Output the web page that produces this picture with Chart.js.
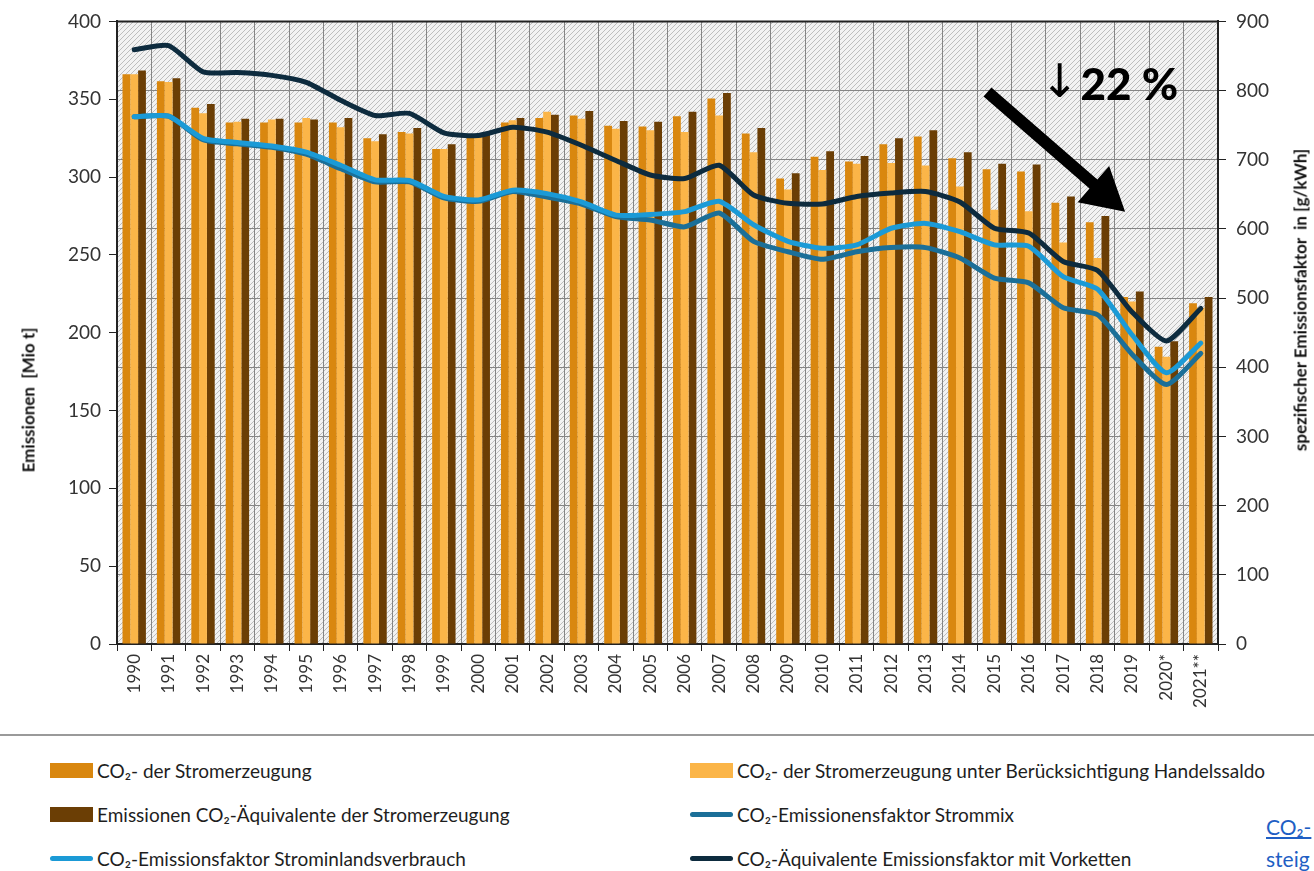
<!DOCTYPE html>
<html lang="de">
<head>
<meta charset="utf-8">
<title>CO2-Emissionen der Stromerzeugung</title>
<script src="https://cdn.jsdelivr.net/npm/chart.js@4.4.1/dist/chart.umd.min.js"></script>
<style>
  body { margin: 0; background: #fff; width: 1314px; height: 871px; overflow: hidden; position: relative; font-family: Lato, "Open Sans", sans-serif; color: #222; }
  #chart { position: absolute; left: 0; top: 0; }
  .ytitle { position: absolute; font-weight: 700; font-size: 17px; white-space: pre; color: #111; transform: translate(-50%, -50%) rotate(-90deg); }
  .sep { position: absolute; left: 0; top: 734px; width: 1314px; height: 0; border-top: 2px solid #9a9a9a; }
  .leg { position: absolute; display: flex; align-items: center; height: 24px; font-size: 19px; white-space: nowrap; color: #1e1e1e; }
  .sw { display: inline-block; width: 43px; margin-right: 4px; }
  .sw.bar { height: 15px; }
  .sw.line { height: 5px; border-radius: 3px; }
  .link { position: absolute; left: 1266px; font-size: 21px; color: #1f5fc4; white-space: nowrap; }
</style>
</head>
<body>
<canvas id="chart" width="1314" height="725"></canvas>
<div class="ytitle" style="left:28px; top:400px;">Emissionen  [Mio t]</div>
<div class="ytitle" style="left:1300px; top:300px;">spezifischer Emissionsfaktor  in [g/kWh]</div>

<div class="sep"></div>
<div class="leg" style="left:50px; top:758px;"><span class="sw bar" style="background:#d9870f"></span>CO₂- der Stromerzeugung</div>
<div class="leg" style="left:690px; top:758px;"><span class="sw bar" style="background:#fbb548"></span>CO₂- der Stromerzeugung unter Berücksichtigung Handelssaldo</div>
<div class="leg" style="left:50px; top:802px;"><span class="sw bar" style="background:#6b3e05"></span>Emissionen CO₂-Äquivalente der Stromerzeugung</div>
<div class="leg" style="left:690px; top:802px;"><span class="sw line" style="background:#1b6f98"></span>CO₂-Emissionensfaktor Strommix</div>
<div class="leg" style="left:50px; top:846px;"><span class="sw line" style="background:#1b9ad6"></span>CO₂-Emissionsfaktor Strominlandsverbrauch</div>
<div class="leg" style="left:690px; top:846px;"><span class="sw line" style="background:#0d2b3e"></span>CO₂-Äquivalente Emissionsfaktor mit Vorketten</div>
<div class="link" style="top:814px; text-decoration:underline;">CO₂-</div>
<div class="link" style="top:846px;">steig</div>

<script>
// Jahre (x-Achse)
const years = [
  "1990", "1991", "1992", "1993", "1994", "1995", "1996", "1997", "1998", "1999",
  "2000", "2001", "2002", "2003", "2004", "2005", "2006", "2007", "2008", "2009",
  "2010", "2011", "2012", "2013", "2014", "2015", "2016", "2017", "2018", "2019",
  "2020*", "2021**",
];

// Balken, Mio t
const co2Erzeugung = [
  366, 361.5, 344.5, 335, 335, 335, 335, 325, 329, 318,
  326.5, 335, 338, 339.5, 333, 332.5, 339, 350.5, 328, 299,
  313, 310, 321, 326, 312, 305, 303.5, 283.5, 271, 223,
  191, 219,
];
const co2Handelssaldo = [
  366, 361, 341, 335.5, 337, 338, 332, 323, 328, 318,
  326, 336.5, 342, 337.5, 331, 330, 329, 339.5, 316, 292,
  304.5, 308.5, 309, 307.5, 294, 279, 278, 258, 248, 220,
  184.5, 216,
];
const co2Aequivalente = [
  368.5, 363.5, 347, 337.5, 337.5, 337, 338, 327.5, 331.5, 321,
  327, 338, 340, 342.5, 336, 335.5, 342, 354, 331.5, 302.5,
  316.5, 313.5, 325, 330, 316, 308.5, 308, 287.5, 275, 226.5,
  194.5, 223,
];

// Linien, g/kWh
const faktorVorketten = [
  859, 865, 827, 826, 822, 812, 786, 764, 767, 739,
  735, 747, 740, 721, 699, 678, 673, 692, 649, 637,
  636, 647, 652, 654, 639, 601, 594, 553, 540, 480,
  438, 485,
];
const faktorInland = [
  762, 763, 731, 725, 720, 711, 692, 671, 670, 647,
  642, 656, 651, 639, 620, 621, 625, 640, 606, 582,
  572, 577, 601, 608, 596, 577, 575, 531, 513, 447,
  392, 435,
];
const faktorStrommix = [
  762, 763, 729, 723, 718, 708, 687, 668, 668, 645,
  640, 654, 646, 636, 618, 613, 603, 623, 582, 567,
  556, 567, 573, 573, 558, 529, 522, 486, 476, 419,
  375, 420,
];

Chart.defaults.font.family = "Lato, 'Open Sans', sans-serif";

// schraffierter Hintergrund der Zeichenfläche
function makeHatch() {
  const c = document.createElement("canvas");
  c.width = 5;
  c.height = 5;
  const g = c.getContext("2d");
  g.fillStyle = "#f2f2f2";
  g.fillRect(0, 0, 5, 5);
  g.strokeStyle = "#bdbdbd";
  g.lineWidth = 1;
  g.beginPath();
  g.moveTo(0, 5);
  g.lineTo(5, 0);
  g.moveTo(-1, 1);
  g.lineTo(1, -1);
  g.moveTo(4, 6);
  g.lineTo(6, 4);
  g.stroke();
  return c;
}

const hatchPlugin = {
  id: "hatch",
  beforeDraw(chart) {
    const { ctx, chartArea: a } = chart;
    ctx.save();
    ctx.fillStyle = "#fff";
    ctx.fillRect(0, 0, chart.width, chart.height);
    ctx.fillStyle = ctx.createPattern(makeHatch(), "repeat");
    ctx.fillRect(a.left, a.top, a.right - a.left, a.bottom - a.top);
    ctx.restore();
  },
  afterDraw(chart) {
    const { ctx, chartArea: a } = chart;
    ctx.save();
    ctx.strokeStyle = "#222";
    ctx.lineWidth = 2;
    ctx.beginPath();
    ctx.moveTo(a.left, a.top);
    ctx.lineTo(a.right, a.top);
    ctx.stroke();
    ctx.restore();
  },
};

// Pfeil und "22 %" Hinweis (Position in Achsenwerten)
const arrowFrom = [24.8, 798];
const arrowTo = [28.8, 625];

const notePlugin = {
  id: "note",
  afterDatasetsDraw(chart) {
    const { ctx } = chart;
    const x = chart.scales.x;
    const y = chart.scales.y2;
    const x0 = x.getPixelForValue(arrowFrom[0]);
    const y0 = y.getPixelForValue(arrowFrom[1]);
    const x1 = x.getPixelForValue(arrowTo[0]);
    const y1 = y.getPixelForValue(arrowTo[1]);
    const ang = Math.atan2(y1 - y0, x1 - x0);
    const len = Math.hypot(x1 - x0, y1 - y0);
    const head = 42;
    const halfHead = 24;
    const halfShaft = 6;

    ctx.save();
    ctx.translate(x0, y0);
    ctx.rotate(ang);
    ctx.fillStyle = "#000";
    ctx.beginPath();
    ctx.moveTo(0, -halfShaft);
    ctx.lineTo(len - head, -halfShaft);
    ctx.lineTo(len - head, -halfHead);
    ctx.lineTo(len, 0);
    ctx.lineTo(len - head, halfHead);
    ctx.lineTo(len - head, halfShaft);
    ctx.lineTo(0, halfShaft);
    ctx.closePath();
    ctx.fill();
    ctx.restore();

    ctx.save();
    ctx.fillStyle = "#000";
    ctx.textBaseline = "alphabetic";
    ctx.font = "46px 'DejaVu Sans'";
    ctx.textAlign = "center";
    ctx.fillText("↓", x.getPixelForValue(26.9), y.getPixelForValue(790));
    ctx.font = "900 44px Lato";
    ctx.textAlign = "left";
    ctx.fillText("22 %", x.getPixelForValue(27.5), y.getPixelForValue(786));
    ctx.restore();
  },
};

const barOpts = { type: "bar", yAxisID: "y", order: 3, categoryPercentage: 0.68, barPercentage: 1.0 };
const lineOpts = { type: "line", yAxisID: "y2", borderWidth: 5, pointRadius: 0, tension: 0.2, fill: false, borderCapStyle: "round", borderJoinStyle: "round" };

const gridGray = "#858585";
const tickFont = { size: 19 };

new Chart(document.getElementById("chart"), {
  data: {
    labels: years,
    datasets: [
      { ...lineOpts, label: "CO₂-Äquivalente Emissionsfaktor mit Vorketten", data: faktorVorketten, borderColor: "#0d2b3e", order: 0 },
      { ...lineOpts, label: "CO₂-Emissionsfaktor Strominlandsverbrauch", data: faktorInland, borderColor: "#1b9ad6", order: 1 },
      { ...lineOpts, label: "CO₂-Emissionensfaktor Strommix", data: faktorStrommix, borderColor: "#1b6f98", order: 2 },
      { ...barOpts, label: "CO₂- der Stromerzeugung", data: co2Erzeugung, backgroundColor: "#d9870f" },
      { ...barOpts, label: "CO₂- der Stromerzeugung unter Berücksichtigung Handelssaldo", data: co2Handelssaldo, backgroundColor: "#fbb548" },
      { ...barOpts, label: "Emissionen CO₂-Äquivalente der Stromerzeugung", data: co2Aequivalente, backgroundColor: "#6b3e05" },
    ],
  },
  options: {
    responsive: false,
    animation: false,
    layout: { padding: { top: 19, left: 0, right: 0, bottom: 0 } },
    plugins: { legend: { display: false }, tooltip: { enabled: false } },
    scales: {
      x: {
        grid: { color: gridGray, offset: true, tickColor: "#222", tickLength: 7 },
        border: { color: "#222", width: 2 },
        ticks: { minRotation: 90, maxRotation: 90, autoSkip: false, color: "#333", font: { size: 17 }, padding: 3 },
        afterFit(s) { s.height = 81; },
      },
      y: {
        position: "left",
        min: 0,
        max: 400,
        ticks: { stepSize: 50, color: "#333", font: tickFont, padding: 8 },
        grid: { drawOnChartArea: false, tickColor: "#222", tickLength: 8 },
        border: { color: "#222", width: 2 },
        afterFit(s) { s.width = 117; },
      },
      y2: {
        position: "right",
        min: 0,
        max: 900,
        ticks: { stepSize: 100, color: "#333", font: tickFont, padding: 10 },
        grid: { color: gridGray, tickColor: "#222", tickLength: 8 },
        border: { color: "#222", width: 2 },
        afterFit(s) { s.width = 96; },
      },
    },
  },
  plugins: [hatchPlugin, notePlugin],
});
</script>
</body>
</html>
